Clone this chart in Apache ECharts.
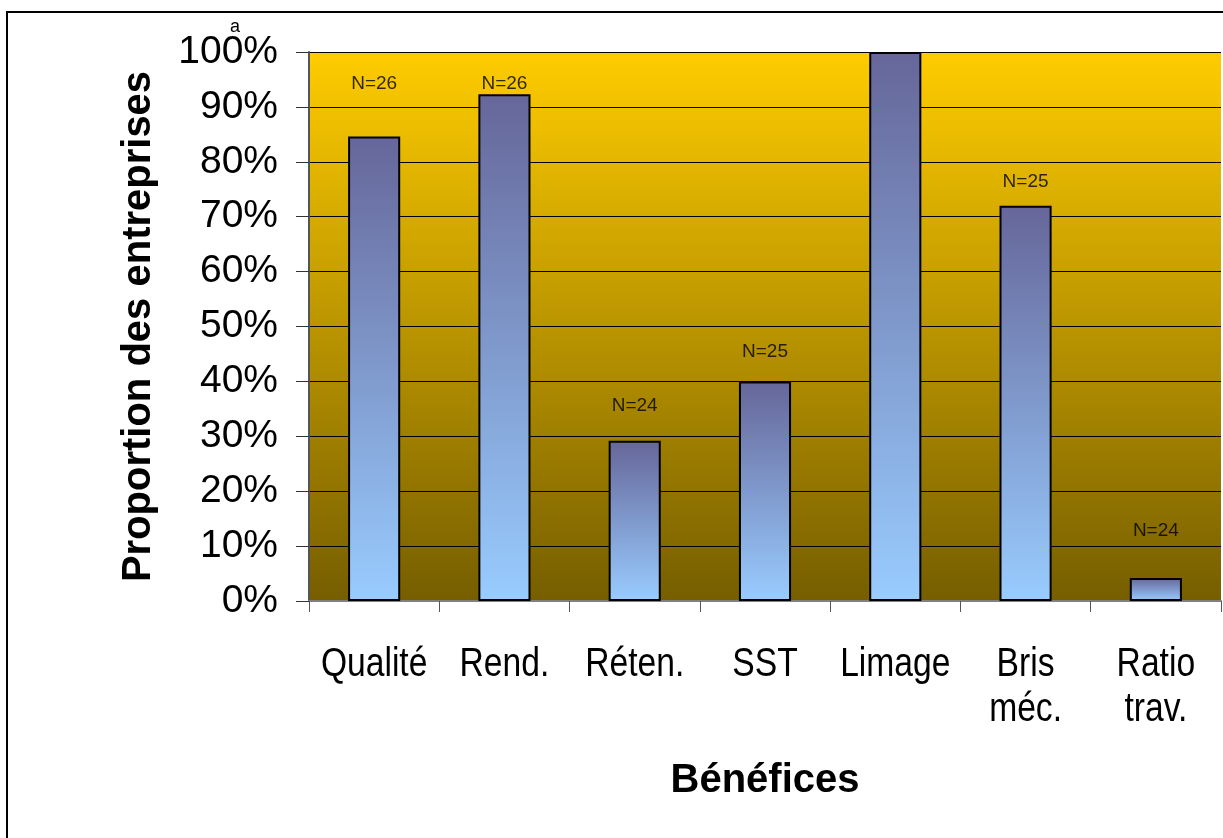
<!DOCTYPE html>
<html>
<head>
<meta charset="utf-8">
<script src="https://cdn.jsdelivr.net/npm/echarts@6/dist/echarts.min.js"></script>
<style>
html,body{margin:0;padding:0;background:#fff;overflow:hidden;}
#chart{width:1223px;height:838px;}
</style>
</head>
<body>
<div id="chart"></div>
<script>
// Data
const categories = ['Qualité', 'Rend.', 'Réten.', 'SST', 'Limage', 'Bris\nméc.', 'Ratio\ntrav.'];
const proportions = [84.6, 92.3, 29.2, 40.0, 100.0, 72.0, 4.2];   // % of companies
const sampleSizes = [26, 26, 24, 25, 26, 25, 24];                 // N per benefit
const nLabelLevels = [94.2, 94.2, 35.5, 45.4, 103.3, 76.3, 12.8]; // where each N label sits (% scale)
const yTicks = [0, 10, 20, 30, 40, 50, 60, 70, 80, 90, 100];

const chart = echarts.init(document.getElementById('chart'), null, {renderer: 'canvas'});

const option = {
  animation: false,
  backgroundColor: '#ffffff',
  grid: {
    left: 309, top: 52, right: 2, bottom: 237,
    show: true,
    borderWidth: 0,
    backgroundColor: {
      type: 'linear', x: 0, y: 0, x2: 0, y2: 1,
      colorStops: [
        {offset: 0, color: '#FFCC00'},
        {offset: 1, color: '#765E00'}
      ]
    }
  },
  xAxis: {
    type: 'category',
    data: categories,
    name: 'Bénéfices',
    nameLocation: 'middle',
    nameGap: 160,
    nameTextStyle: {fontFamily: 'Liberation Sans, Arial', fontWeight: 'bold', fontSize: 40, color: '#000'},
    axisLine: {show: true, lineStyle: {color: '#808080', width: 2}},
    axisTick: {show: true, alignWithLabel: false, length: 11, lineStyle: {color: '#555', width: 1}},
    axisLabel: {show: false},
    splitLine: {show: false}
  },
  yAxis: {
    type: 'value',
    min: 0, max: 100, interval: 10,
    name: 'Proportion des entreprises',
    nameLocation: 'middle',
    nameGap: 150,
    nameTextStyle: {fontFamily: 'Liberation Sans, Arial', fontWeight: 'bold', fontSize: 40, color: '#000'},
    axisLine: {show: true, lineStyle: {color: '#555', width: 2}},
    axisTick: {show: true, length: 13, lineStyle: {color: '#333', width: 1}},
    axisLabel: {
      margin: 31, fontSize: 39, color: '#000', fontFamily: 'Liberation Sans, Arial',
      formatter: v => yTicks.includes(v) ? v + '%' : ''
    },
    splitLine: {show: true, lineStyle: {color: '#000', width: 1}}
  },
  series: [
    {
      type: 'bar',
      data: proportions,
      barWidth: '40%',
      itemStyle: {
        color: {
          type: 'linear', x: 0, y: 0, x2: 0, y2: 1,
          colorStops: [
            {offset: 0, color: '#666699'},
            {offset: 1, color: '#99CCFF'}
          ]
        },
        borderColor: '#000',
        borderWidth: 2
      },
      z: 3
    },
    {
      type: 'scatter',
      data: nLabelLevels,
      symbolSize: 0,
      silent: true,
      label: {
        show: true,
        position: 'inside',
        fontFamily: 'Liberation Sans, Arial',
        fontSize: 19,
        color: '#000',
        formatter: p => 'N=' + sampleSizes[p.dataIndex]
      },
      z: 4
    },
    {
      // category labels drawn in a narrow face (horizontally condensed text)
      type: 'custom',
      silent: true,
      clip: false,
      data: categories.map((c, i) => [i, 0]),
      renderItem: (params, api) => {
        const idx = api.value(0);
        const pt = api.coord([idx, 0]);
        return {
          type: 'text',
          x: pt[0], y: pt[1] + 41,
          scaleX: 0.82,
          style: {
            text: categories[idx],
            fontFamily: 'Liberation Sans, Arial',
            fontSize: 41,
            lineHeight: 45,
            fill: '#000',
            align: 'center',
            verticalAlign: 'top'
          }
        };
      },
      z: 5
    }
  ],
  graphic: [
    {
      type: 'rect',
      shape: {x: 7, y: 12, width: 1240, height: 850},
      style: {fill: 'none', stroke: '#000', lineWidth: 2},
      silent: true, z: 0
    },
    {
      type: 'text',
      x: 235, y: 27,
      style: {text: 'a', fontFamily: 'Liberation Sans, Arial', fontSize: 18, fill: '#000', align: 'center', verticalAlign: 'middle'},
      z: 10
    }
  ]
};
chart.setOption(option);
</script>
</body>
</html>
